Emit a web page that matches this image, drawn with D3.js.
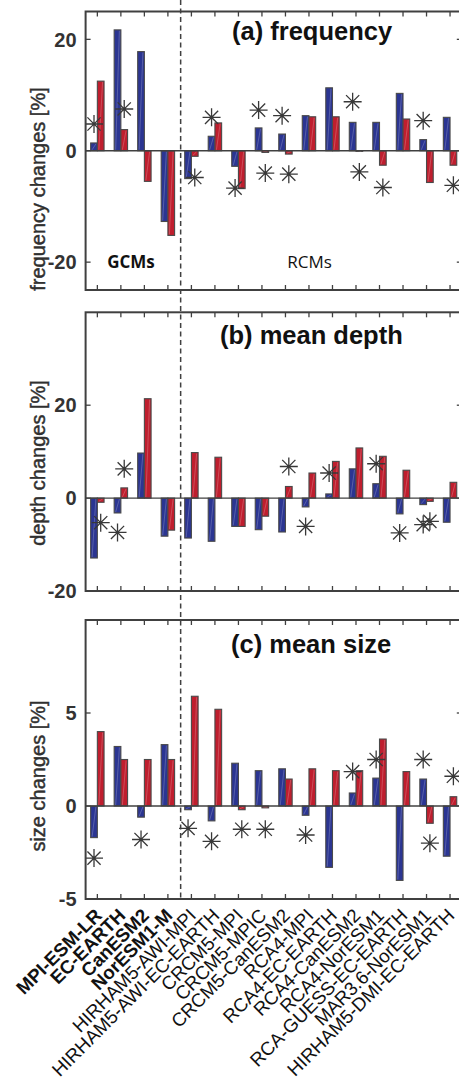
<!DOCTYPE html>
<html>
<head>
<meta charset="utf-8">
<script src="https://cdn.jsdelivr.net/npm/d3@7"></script>
<style>
body{margin:0;background:#fff;}
svg{display:block;font-family:"Liberation Sans",Arial,sans-serif;}
</style>
</head>
<body>
<div id="fig"></div>
<script>
// models: 4 GCMs then 12 RCMs
var models = ["MPI-ESM-LR","EC-EARTH","CanESM2","NorESM1-M",
  "HIRHAM5-AWI-MPI","HIRHAM5-AWI-EC-EARTH","CRCM5-MPI","CRCM5-MPIC","CRCM5-CanESM2",
  "RCA4-MPI","RCA4-EC-EARTH","RCA4-CanESM2","RCA4-NorESM1","RCA-GUESS-EC-EARTH",
  "MAR3.6-NorESM1","HIRHAM5-DMI-EC-EARTH"];
var nGCM = 4;

// (a) frequency
var freqBlue = [1.4,21.7,17.8,-12.7,-5.0,2.6,-2.8,4.1,3.0,6.3,11.3,5.1,5.1,10.3,2.0,6.0];
var freqRed  = [12.5,3.8,-5.5,-15.2,-1.0,5.0,-6.8,-0.3,-0.6,6.1,6.1,-0.1,-2.6,5.7,-5.7,-2.6];
var freqStarBlue = [4.8,null,null,null,null,6.0,-6.7,7.3,6.3,null,null,8.8,null,null,5.4,null];
var freqStarRed  = [null,7.5,null,null,-4.8,null,null,-4.0,-4.2,null,null,-3.8,-6.6,null,null,-6.2];

// (b) mean depth
var depthBlue = [-12.9,-3.2,9.7,-8.2,-8.6,-9.3,-6.1,-6.8,-7.3,-1.9,0.9,6.3,3.1,-3.4,-1.4,-5.2];
var depthRed  = [-0.9,2.2,21.4,-6.9,9.8,8.8,-6.1,-3.9,2.5,5.4,7.9,10.8,9.0,6.0,-0.7,3.4];
var depthStarBlue = [null,-7.4,null,null,null,null,null,null,null,-6.1,5.4,null,7.4,-7.5,-5.7,null];
var depthStarRed  = [-5.3,6.3,null,null,null,null,null,null,6.8,null,null,null,null,null,-5.0,null];

// (c) mean size
var sizeBlue = [-1.7,3.2,-0.6,3.3,-0.2,-0.8,2.3,1.9,2.0,-0.5,-3.3,0.7,1.5,-4.0,1.45,-2.7];
var sizeRed  = [4.0,2.5,2.5,2.5,5.9,5.2,-0.2,-0.1,1.45,2.0,1.9,1.9,3.6,1.85,-0.93,0.5];
var sizeStarBlue = [-2.8,null,-1.8,null,-1.2,-1.9,null,null,null,-1.56,null,1.85,2.5,null,2.5,null];
var sizeStarRed  = [null,null,null,null,null,null,-1.25,-1.25,null,null,null,null,null,null,-2.0,1.6];

var W = 459, H = 1083;
var axCol = "#404040", blue = "#2b3592", red = "#bf1e2e";

var svg = d3.select("#fig").append("svg")
  .attr("width", W).attr("height", H);

var x = d3.scaleLinear().domain([0.5, 16.5]).range([85.6, 461.8]);
var bw = 0.285;

var panels = [
  {title:"(a) frequency", ylab:"frequency changes [%]", top:11.5, bot:290, dom:[-25,25], ticks:[-20,0,20],
   blue:freqBlue, red:freqRed, sb:freqStarBlue, sr:freqStarRed, tx:232, ty:40, ly:189},
  {title:"(b) mean depth", ylab:"depth changes [%]", top:312.3, bot:591, dom:[-20,40], ticks:[-20,0,20],
   blue:depthBlue, red:depthRed, sb:depthStarBlue, sr:depthStarRed, tx:220, ty:344, ly:463},
  {title:"(c) mean size", ylab:"size changes [%]", top:620, bot:899, dom:[-5,10], ticks:[-5,0,5],
   blue:sizeBlue, red:sizeRed, sb:sizeStarBlue, sr:sizeStarRed, tx:231, ty:653, ly:776}
];

var idx = d3.range(1, 17);

panels.forEach(function(p){
  var y = d3.scaleLinear().domain(p.dom).range([p.bot, p.top]);
  var g = svg.append("g");

  // bars
  function bars(vals, off, col){
    var b = g.selectAll(null).data(vals).enter().append("g");
    b.append("rect")
      .attr("x", function(d,i){ return x(i+1+off); })
      .attr("width", x(bw) - x(0))
      .attr("y", function(d){ return y(Math.max(0,d)); })
      .attr("height", function(d){ return Math.abs(y(d) - y(0)); })
      .style("fill", col)
      .style("stroke", "#4a4a4a")
      .style("stroke-width", 1.1);
    // faint streak inside bars
    b.append("line")
      .attr("x1", function(d,i){ return x(i+1+off) + 1.5; })
      .attr("x2", function(d,i){ return x(i+1+off+bw) - 1.5; })
      .attr("y1", function(d){ return y(Math.min(0,d)) - 1; })
      .attr("y2", function(d){ return y(Math.max(0,d)) + 1; })
      .style("stroke", "rgba(255,255,255,0.3)")
      .style("stroke-width", 0.7);
  }
  bars(p.blue, -bw, blue);
  bars(p.red, 0, red);

  // zero line
  g.append("line")
    .attr("x1", x(0.5)).attr("x2", x(16.5))
    .attr("y1", y(0)).attr("y2", y(0))
    .style("stroke", axCol).style("stroke-width", 1.3);

  // asterisks
  function stars(vals, off){
    var s = g.selectAll(null)
      .data(vals.map(function(v,i){ return {v:v, i:i}; }).filter(function(d){ return d.v != null; }))
      .enter().append("g")
      .attr("transform", function(d){ return "translate(" + x(d.i+1+off) + "," + y(d.v) + ")"; });
    var r = 9, q = 6.6;
    s.append("path")
      .attr("d", "M"+(-r)+",0H"+r+"M0,"+(-r)+"V"+r+"M"+(-q)+","+(-q)+"L"+q+","+q+"M"+(-q)+","+q+"L"+q+","+(-q))
      .style("stroke", "#383838").style("stroke-width", 1.3).style("fill", "none");
  }
  stars(p.sb, -bw/2);
  stars(p.sr, bw/2);

  // frame
  g.append("rect")
    .attr("x", x(0.5)).attr("y", p.top)
    .attr("width", x(16.5) - x(0.5)).attr("height", p.bot - p.top)
    .style("fill", "none").style("stroke", axCol).style("stroke-width", 2);

  // x ticks top & bottom (inward)
  idx.forEach(function(i){
    g.append("line").attr("x1", x(i)).attr("x2", x(i)).attr("y1", p.top).attr("y2", p.top + 5)
      .style("stroke", axCol).style("stroke-width", 1.3);
    g.append("line").attr("x1", x(i)).attr("x2", x(i)).attr("y1", p.bot).attr("y2", p.bot - 5)
      .style("stroke", axCol).style("stroke-width", 1.3);
  });

  // y ticks left & right + labels
  p.ticks.forEach(function(t){
    g.append("line").attr("x1", x(0.5)).attr("x2", x(0.5) + 5).attr("y1", y(t)).attr("y2", y(t))
      .style("stroke", axCol).style("stroke-width", 1.3);
    g.append("line").attr("x1", x(16.5)).attr("x2", x(16.5) - 5).attr("y1", y(t)).attr("y2", y(t))
      .style("stroke", axCol).style("stroke-width", 1.3);
    g.append("text")
      .attr("x", x(0.5) - 9).attr("y", y(t)).attr("dy", "0.36em")
      .attr("text-anchor", "end")
      .style("font-size", "20px").style("font-weight", "bold").style("fill", "#333")
      .text(t);
  });

  // title
  g.append("text")
    .attr("x", p.tx).attr("y", p.ty)
    .style("font-size", "25.5px").style("font-weight", "bold").style("fill", "#111")
    .text(p.title);

  // y label
  g.append("text")
    .attr("text-anchor", "middle")
    .attr("transform", "translate(45," + p.ly + ")rotate(-90)")
    .style("font-size", "20px").style("fill", "#303030")
    .style("stroke", "#303030").style("stroke-width", 0.45)
    .text(p.ylab);
});

// GCMs / RCMs annotations
svg.append("text").attr("x", 131).attr("y", 268).attr("text-anchor", "middle")
  .style("font-family", "'Open Sans',sans-serif").style("font-size", "17px").style("font-weight", "bold")
  .style("fill", "#111").text("GCMs");
svg.append("text").attr("x", 309.5).attr("y", 268).attr("text-anchor", "middle")
  .style("font-family", "'Open Sans',sans-serif").style("font-size", "17px")
  .style("fill", "#111").text("RCMs");

// dashed divider between GCMs and RCMs
svg.append("line")
  .attr("x1", x(nGCM + 0.5) + 1).attr("x2", x(nGCM + 0.5) + 1)
  .attr("y1", 0).attr("y2", 899)
  .style("stroke", axCol).style("stroke-width", 1.5)
  .style("stroke-dasharray", "5,3.5");

// rotated model labels under the last panel
svg.selectAll(".xl").data(models).enter().append("text")
  .attr("class", "xl")
  .attr("text-anchor", "end")
  .attr("dy", "0.35em")
  .attr("transform", function(d,i){ return "translate(" + (x(i+1) + 1) + ",912)rotate(-45)"; })
  .style("font-size", "18.8px")
  .style("font-weight", function(d,i){ return i < nGCM ? "bold" : "normal"; })
  .style("fill", "#111")
  .text(function(d){ return d; });
</script>
</body>
</html>
